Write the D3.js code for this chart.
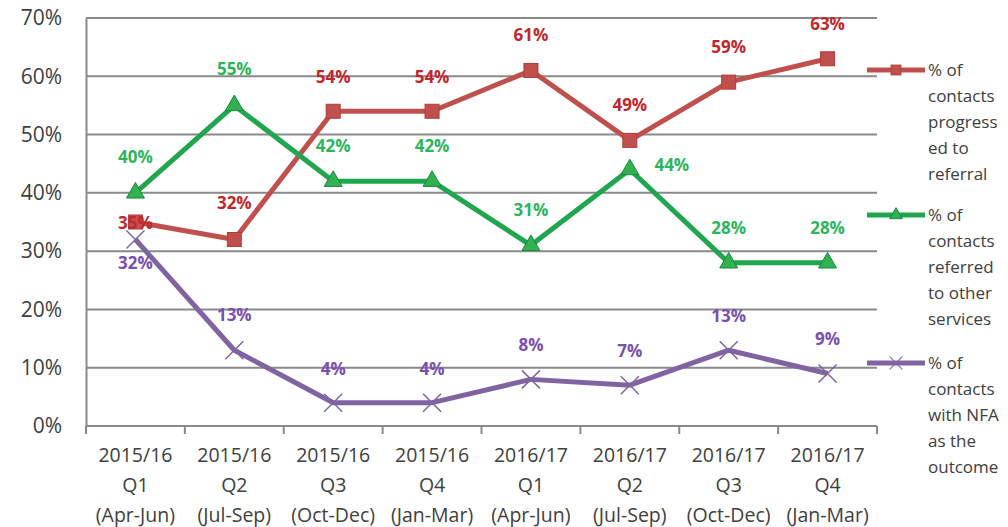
<!DOCTYPE html>
<html>
<head>
<meta charset="utf-8">
<script src="https://cdn.jsdelivr.net/npm/d3@7"></script>
<style>
  body { margin: 0; background: #fff; }
  svg text { font-family: "Open Sans", "DejaVu Sans", sans-serif; }
</style>
</head>
<body>
<div class="vis-linechart"></div>
<script>
const categories = [
  ["2015/16", "Q1", "(Apr-Jun)"], ["2015/16", "Q2", "(Jul-Sep)"],
  ["2015/16", "Q3", "(Oct-Dec)"], ["2015/16", "Q4", "(Jan-Mar)"],
  ["2016/17", "Q1", "(Apr-Jun)"], ["2016/17", "Q2", "(Jul-Sep)"],
  ["2016/17", "Q3", "(Oct-Dec)"], ["2016/17", "Q4", "(Jan-Mar)"]
];
const progressed = [35, 32, 54, 54, 61, 49, 59, 63];
const referredOther = [40, 55, 42, 42, 31, 44, 28, 28];
const nfaOutcome = [32, 13, 4, 4, 8, 7, 13, 9];
const yTicks = [0, 10, 20, 30, 40, 50, 60, 70];
const legendRed = ["% of", "contacts", "progress", "ed to", "referral"];
const legendGreen = ["% of", "contacts", "referred", "to other", "services"];
const legendPurple = ["% of", "contacts", "with NFA", "as the", "outcome"];

const margin = { top: 18, left: 86 };
const width = 791, height = 408;

const svg = d3.select(".vis-linechart").append("svg")
  .attr("width", 1008).attr("height", 527);
const g = svg.append("g").attr("transform", "translate(" + margin.left + "," + margin.top + ")");

const x = d3.scaleBand().domain(d3.range(categories.length)).range([0, width]);
const y = d3.scaleLinear().domain([0, 70]).range([height, 0]);

// gridlines
g.selectAll(".grid").data(yTicks).enter().append("line")
  .attr("x1", 0).attr("x2", width)
  .attr("y1", d => y(d)).attr("y2", d => y(d))
  .attr("stroke", "#8a8a8a").attr("stroke-width", 2);

// y axis
const yAxis = g.append("g").call(d3.axisLeft(y).tickValues(yTicks).tickSize(0).tickPadding(24).tickFormat(d => d + "%"));
yAxis.select(".domain").attr("stroke", "#8a8a8a").attr("stroke-width", 2);
yAxis.selectAll("text").style("font-size", "21px").style("fill", "#404040");

// x axis
const xAxis = g.append("g").attr("transform", "translate(0," + height + ")");
xAxis.append("line").attr("x1", 0).attr("x2", width).attr("stroke", "#8a8a8a").attr("stroke-width", 2);
xAxis.selectAll(".tk").data(d3.range(categories.length + 1)).enter().append("line")
  .attr("x1", d => d * x.step()).attr("x2", d => d * x.step())
  .attr("y1", 0).attr("y2", 8).attr("stroke", "#8a8a8a").attr("stroke-width", 2);
xAxis.selectAll(".lbl").data(categories).enter().append("text")
  .attr("x", (d, i) => x(i) + x.bandwidth() / 2)
  .attr("text-anchor", "middle")
  .style("font-size", "19.5px").style("fill", "#404040")
  .selectAll("tspan").data(d => d).enter().append("tspan")
  .attr("x", function () { return d3.select(this.parentNode).attr("x"); })
  .attr("y", (d, i) => 36 + i * 30)
  .text(d => d);

const cx = i => x(i) + x.bandwidth() / 2;
const line = d3.line().x((d, i) => cx(i)).y(d => y(d));

const series = [
  { values: progressed, line: "#c0504d", label: "#c0272d", marker: "square",
    dx: [0, 0, 0, 0, 0, 0, 0, 0], dy: [1, -36, -34, -34, -35, -35, -35, -35] },
  { values: referredOther, line: "#1fa64f", label: "#2db55d", marker: "triangle",
    dx: [0, 0, 0, 0, 0, 42, 0, 0], dy: [-36, -36, -35, -35, -35, -4, -35, -35] },
  { values: nfaOutcome, line: "#8064a2", label: "#7a4fb0", marker: "x",
    dx: [0, 0, 0, 0, 0, 0, 0, 0], dy: [24, -35, -34, -34, -34, -34, -34, -34] }
];

series.forEach(s => {
  g.append("path").datum(s.values)
    .attr("fill", "none").attr("stroke", s.line).attr("stroke-width", 5)
    .attr("stroke-linejoin", "round").attr("d", line);
});

function drawMarker(sel, s, k) {
  if (s.marker === "square") {
    sel.append("rect").attr("x", -7 * k).attr("y", -7 * k).attr("width", 14 * k).attr("height", 14 * k)
      .attr("fill", s.line).attr("stroke", "#b03c39").attr("stroke-width", 1);
  } else if (s.marker === "triangle") {
    sel.append("path").attr("d", d3.symbol(d3.symbolTriangle, 140 * k * k)())
      .attr("fill", "#2fb24f").attr("stroke", "#1a8a3c");
  } else {
    sel.append("path").attr("d", "M-9,-9L9,9M-9,9L9,-9")
      .attr("transform", "scale(" + k + ")")
      .attr("stroke", s.line).attr("stroke-width", 1.5).attr("fill", "none");
  }
}

series.forEach(s => {
  s.values.forEach((v, i) => {
    const m = g.append("g").attr("transform", "translate(" + cx(i) + "," + y(v) + ")");
    drawMarker(m, s, 1);
  });
});

series.forEach(s => {
  g.selectAll(null).data(s.values).enter().append("text")
    .attr("x", (d, i) => cx(i) + s.dx[i])
    .attr("y", (d, i) => y(d) + s.dy[i])
    .attr("text-anchor", "middle").attr("dy", "0.35em")
    .style("font-size", "17px").style("font-weight", "bold").style("fill", s.label)
    .text(d => d + "%");
});

// legend
const legends = [
  { s: series[0], lines: legendRed, y: 70 },
  { s: series[1], lines: legendGreen, y: 215 },
  { s: series[2], lines: legendPurple, y: 363 }
];
legends.forEach(l => {
  const lg = svg.append("g").attr("transform", "translate(867," + l.y + ")");
  lg.append("line").attr("x1", 0).attr("x2", 58).attr("stroke", l.s.line).attr("stroke-width", 5);
  const m = lg.append("g").attr("transform", "translate(29,0)");
  drawMarker(m, l.s, 0.7);
  lg.append("text").attr("x", 61)
    .style("font-size", "17px").style("fill", "#404040")
    .selectAll("tspan").data(l.lines).enter().append("tspan")
    .attr("x", 61).attr("y", (d, i) => 6 + i * 26).text(d => d);
});
</script>
</body>
</html>
